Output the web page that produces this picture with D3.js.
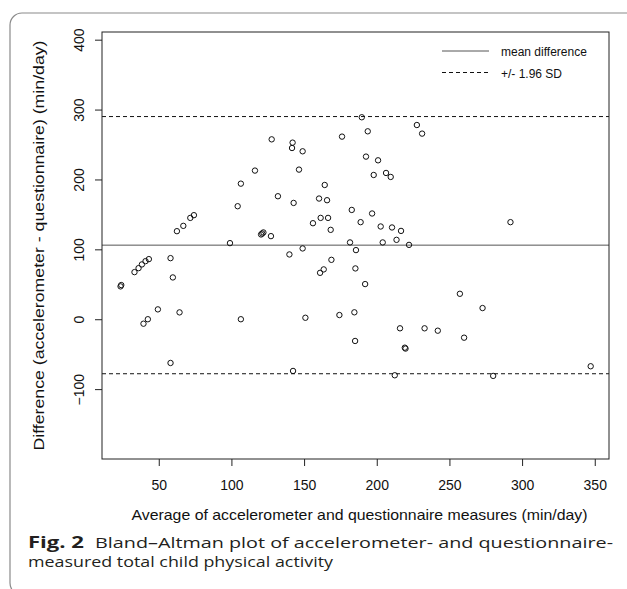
<!DOCTYPE html>
<html>
<head>
<meta charset="utf-8">
<script src="https://cdn.jsdelivr.net/npm/d3@7"></script>
<style>
  body { margin: 0; background: #fff; }
</style>
</head>
<body>
<div class="canvas"></div>
<script>
// average of the two measures (min/day)
const avgValues = [
  24.2, 23.7, 33.3, 36.1, 38.4, 40.9, 43.2, 39.5, 42.5, 49.4,
  58.1, 59.7, 58.1, 64.3, 62.5, 66.9, 71.7, 74.2, 99, 104.3,
  106.5, 120.4, 121.2, 122, 127.2, 106.5, 116.2, 189.7, 127.7, 142.1,
  141.7, 149, 146.5, 176.1, 193.8, 227.6, 231.2, 192.6, 200.9, 197.9,
  206.4, 209.6, 164.2, 132, 142.8, 160.3, 165.8, 182.8, 196.8, 156.1,
  161.4, 166.5, 168.3, 188.9, 202.7, 210.5, 216.7, 213.6, 204.1, 181.6,
  222.2, 185.7, 149, 139.9, 168.8, 163.5, 161, 185.3, 192, 150.9,
  174.3, 184.6, 185.1, 216, 232.9, 242, 219.3, 219.8, 142.4, 212.4,
  257.2, 272.8, 260.1, 280.1, 347.2, 292
];
// difference accelerometer - questionnaire (min/day)
const diffValues = [
  48.9, 47, 67.4, 73.1, 78.4, 83.1, 86, -6.4, 0, 14.1,
  87.4, 59.8, -62.6, 9.8, 126, 133.6, 145, 148.9, 108.9, 161.7,
  0, 121.3, 122.7, 124.2, 118.9, 194, 212.7, 289, 257.4, 252.7,
  245, 240.3, 214.1, 261.3, 268.9, 277.9, 265.6, 232.7, 227.4, 206.4,
  209.3, 203.6, 192.1, 176, 166.4, 172.7, 170.3, 156.4, 151.3, 137.4,
  145, 145, 127.9, 138.9, 132.7, 131.3, 126.4, 113.6, 109.9, 109.9,
  106.4, 98.9, 101.3, 92.7, 85, 71.3, 66.4, 72.7, 50.3, 2.1,
  6, 9.9, -31.1, -13, -13, -16.4, -40.7, -42, -74, -80.2,
  36.4, 16, -26.4, -81.1, -67.3, 138.9
];

const meanDiff = 106;
const limits = [290, -78]; // +/- 1.96 SD

const xTicks = [50, 100, 150, 200, 250, 300, 350];
const yTicks = [-100, 0, 100, 200, 300, 400];

const legendItems = [
  { label: "mean difference", dash: null },
  { label: "+/- 1.96 SD", dash: "4,3" },
];

const points = avgValues.map((d, i) => ({ x: d, y: diffValues[i] }));

const margin = { top: 32, right: 18, bottom: 130, left: 102 };
const width = 627 - margin.left - margin.right;
const height = 589 - margin.top - margin.bottom;
const font = "'Liberation Sans', Arial, Helvetica, sans-serif";

const svg = d3
  .select(".canvas")
  .append("svg")
  .attr("width", 627)
  .attr("height", 589);

// rounded figure frame
svg
  .append("rect")
  .attr("x", 10)
  .attr("y", 13)
  .attr("width", 640)
  .attr("height", 582)
  .attr("rx", 12)
  .attr("fill", "none")
  .attr("stroke", "#8a8a8a")
  .attr("stroke-width", 1.2);

const group = svg
  .append("g")
  .attr("transform", `translate(${margin.left},${margin.top})`);

const x = d3.scaleLinear().domain([10.95, 359.8]).range([0, width]);
const y = d3.scaleLinear().domain([-200, 411]).range([height, 0]);

// axes
const xAxis = group
  .append("g")
  .attr("transform", `translate(0,${height})`)
  .call(d3.axisBottom(x).tickValues(xTicks).tickSize(7).tickFormat(d3.format("d")));

xAxis.select(".domain").remove();
xAxis.selectAll("line").attr("stroke", "#222");
xAxis
  .selectAll("text")
  .attr("y", 26)
  .attr("dy", "0.35em")
  .attr("fill", "#111")
  .style("font-family", font)
  .style("font-size", "14px");

const yAxis = group
  .append("g")
  .call(d3.axisLeft(y).tickValues(yTicks).tickSize(7).tickFormat(d3.format("d")));

yAxis.select(".domain").remove();
yAxis.selectAll("line").attr("stroke", "#222");
yAxis
  .selectAll("text")
  .attr("x", 0)
  .attr("y", 0)
  .attr("dy", "0.35em")
  .attr("text-anchor", "middle")
  .attr("transform", "translate(-23,0) rotate(-90)")
  .attr("fill", "#111")
  .style("font-family", font)
  .style("font-size", "14px");

// reference lines
group
  .append("line")
  .attr("x1", 0)
  .attr("x2", width)
  .attr("y1", y(meanDiff))
  .attr("y2", y(meanDiff))
  .attr("stroke", "#555")
  .attr("stroke-width", 1);

group
  .selectAll(".limit")
  .data(limits)
  .enter()
  .append("line")
  .attr("class", "limit")
  .attr("x1", 0)
  .attr("x2", width)
  .attr("y1", (d) => y(d))
  .attr("y2", (d) => y(d))
  .attr("stroke", "#111")
  .attr("stroke-width", 1)
  .attr("stroke-dasharray", "4,3");

// points
group
  .selectAll("circle")
  .data(points)
  .enter()
  .append("circle")
  .attr("cx", (d) => x(d.x))
  .attr("cy", (d) => y(d.y))
  .attr("r", 2.7)
  .attr("fill", "none")
  .attr("stroke", "#111")
  .attr("stroke-width", 1);

// plot box
group
  .append("rect")
  .attr("width", width)
  .attr("height", height)
  .attr("fill", "none")
  .attr("stroke", "#222")
  .attr("stroke-width", 1);

// legend
const legend = group
  .selectAll(".legend")
  .data(legendItems)
  .enter()
  .append("g")
  .attr("class", "legend")
  .attr("transform", (d, i) => `translate(340,${19 + i * 21.5})`);

legend
  .append("line")
  .attr("x1", 0)
  .attr("x2", 47)
  .attr("stroke", (d) => (d.dash ? "#111" : "#555"))
  .attr("stroke-dasharray", (d) => d.dash);

legend
  .append("text")
  .attr("x", 59)
  .attr("y", 5)
  .attr("fill", "#111")
  .text((d) => d.label)
  .style("font-family", font)
  .style("font-size", "12px");

// axis titles
svg
  .append("text")
  .attr("x", 359.5)
  .attr("y", 520)
  .attr("text-anchor", "middle")
  .attr("fill", "#111")
  .attr("textLength", 456)
  .attr("lengthAdjust", "spacingAndGlyphs")
  .text("Average of accelerometer and questionnaire measures (min/day)")
  .style("font-family", font)
  .style("font-size", "15px");

svg
  .append("text")
  .attr("transform", `translate(44,${margin.top + height / 2 + 205}) rotate(-90)`)
  .attr("fill", "#111")
  .attr("textLength", 410)
  .attr("lengthAdjust", "spacingAndGlyphs")
  .text("Difference (accelerometer - questionnaire) (min/day)")
  .style("font-family", font)
  .style("font-size", "14px");

// caption
const capFont = "'Open Sans', 'Noto Sans', sans-serif";
svg
  .append("text")
  .attr("x", 28)
  .attr("y", 548)
  .attr("fill", "#231f20")
  .attr("textLength", 56)
  .attr("lengthAdjust", "spacingAndGlyphs")
  .text("Fig. 2")
  .style("font-family", capFont)
  .style("font-weight", "bold")
  .style("font-size", "16px");

svg
  .append("text")
  .attr("x", 95)
  .attr("y", 548)
  .attr("fill", "#231f20")
  .attr("textLength", 518)
  .attr("lengthAdjust", "spacingAndGlyphs")
  .text("Bland\u2013Altman plot of accelerometer- and questionnaire-")
  .style("font-family", capFont)
  .style("font-size", "15px");

svg
  .append("text")
  .attr("x", 28)
  .attr("y", 567)
  .attr("fill", "#231f20")
  .attr("textLength", 305)
  .attr("lengthAdjust", "spacingAndGlyphs")
  .text("measured total child physical activity")
  .style("font-family", capFont)
  .style("font-size", "15px");
</script>
</body>
</html>
